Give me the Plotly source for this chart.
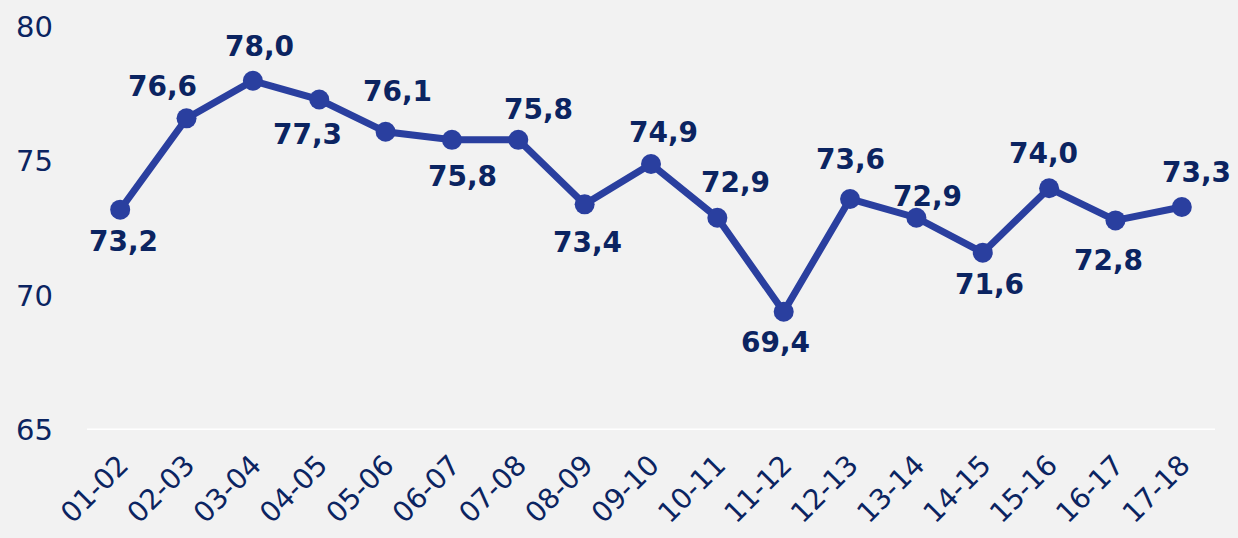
import plotly.graph_objects as go

# school years and the values shown on the chart
years = ["01-02", "02-03", "03-04", "04-05", "05-06", "06-07", "07-08", "08-09", "09-10",
         "10-11", "11-12", "12-13", "13-14", "14-15", "15-16", "16-17", "17-18"]
values = [73.2, 76.6, 78.0, 77.3, 76.1, 75.8, 75.8, 73.4, 74.9,
          72.9, 69.4, 73.6, 72.9, 71.6, 74.0, 72.8, 73.3]
y_ticks = [65, 70, 75, 80]

# label offsets in pixels (dx, dy), placed like the original data labels
label_shift = [(3, -32), (-24, 32), (7, 34), (-12, -35), (12, 40), (11, -37), (20, 30),
               (3, -38), (12, 32), (18, 35), (-8, -31), (0, 39), (11, 21), (7, -32),
               (-6, 35), (-7, -40), (15, 35)]

NAVY = "#0b2461"
LINE = "#2a3f9f"
FONT = "DejaVu Sans"

fig = go.Figure()
fig.add_trace(go.Scatter(
    x=years, y=values, mode="lines+markers",
    line=dict(color=LINE, width=7),
    marker=dict(color=LINE, size=20),
    hoverinfo="skip",
))

for yr, v, (dx, dy) in zip(years, values, label_shift):
    fig.add_annotation(
        x=yr, y=v, text=f"{v:.1f}".replace(".", ","),
        showarrow=False, xshift=dx, yshift=dy,
        font=dict(family=FONT, size=28, color=NAVY, weight="bold"),
    )

fig.update_layout(
    width=1238, height=538,
    margin=dict(l=87, r=23, t=27, b=108),
    paper_bgcolor="#f2f2f2", plot_bgcolor="#f2f2f2",
    showlegend=False,
    font=dict(family=FONT, color=NAVY),
)
fig.update_xaxes(
    type="category", range=[-0.5, 16.5],
    tickangle=-45, tickfont=dict(size=28, color=NAVY),
    showgrid=False, zeroline=False, showline=False, ticks="",
    ticklabelstandoff=12, automargin=False,
)
fig.update_yaxes(
    range=[65, 80], tickvals=y_ticks,
    tickfont=dict(size=29, color=NAVY),
    showgrid=False, zeroline=False, showline=False, ticks="",
    ticklabelstandoff=33, automargin=False,
)
# white baseline at the bottom of the value axis
fig.add_shape(type="line", xref="paper", x0=0, x1=1, yref="y", y0=65, y1=65,
              line=dict(color="white", width=3), layer="below")

fig.write_html("out.html", config={"displayModeBar": False},
               post_script="document.body.style.margin='0';")
